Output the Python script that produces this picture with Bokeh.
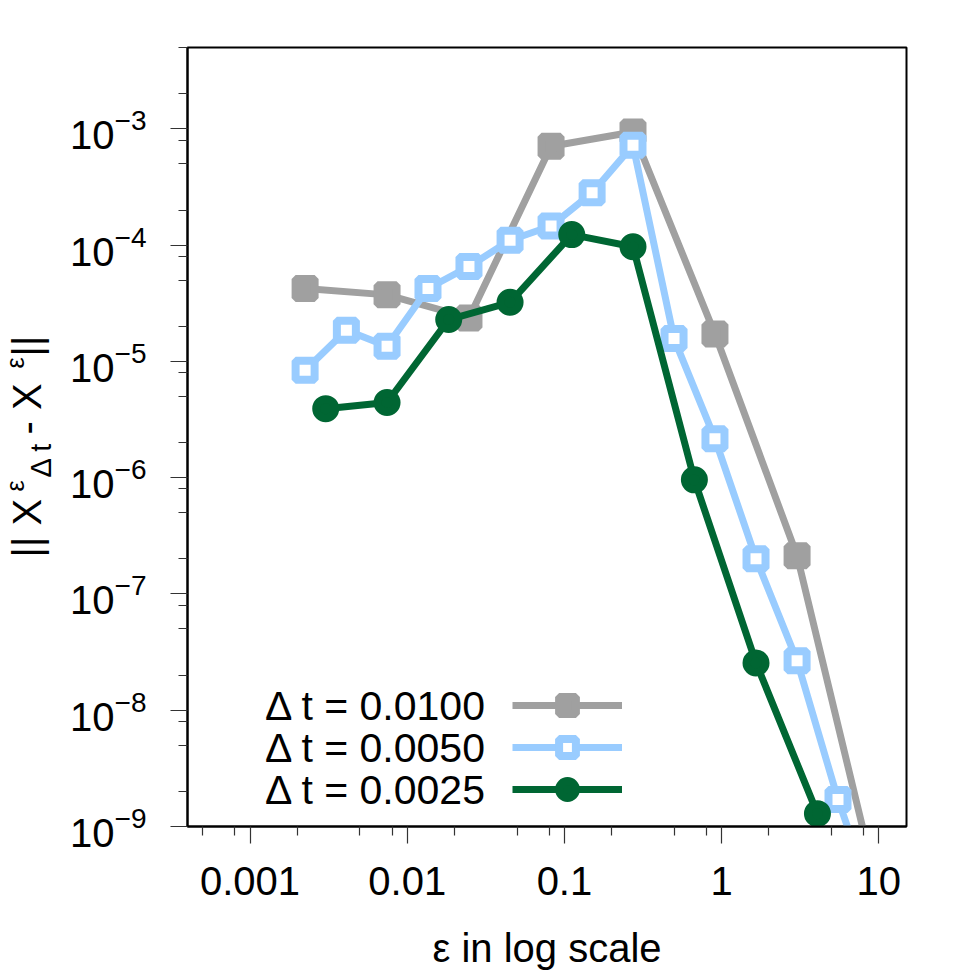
from bokeh.plotting import figure
from bokeh.layouts import row
from bokeh.models import (FixedTicker, LogTickFormatter, CustomJSTickFormatter,
                          Label, Legend, LegendItem, Range1d)
from bokeh.embed import file_html
from bokeh.resources import INLINE

# --- data: error norm versus epsilon for three time steps -------------------
eps_dt0100 = [0.00224, 0.00744, 0.0247, 0.0822, 0.273, 0.907, 3.02, 10.0]
err_dt0100 = [4.23e-5, 3.73e-5, 2.36e-5, 7.07e-4, 9.38e-4, 1.72e-5, 2.13e-7, 2.6e-10]

eps_dt0050 = [0.00224, 0.00410, 0.00744, 0.01355, 0.0247, 0.0451, 0.0822, 0.150,
              0.273, 0.498, 0.907, 1.655, 3.02, 5.50, 10.0]
err_dt0050 = [8.37e-6, 1.85e-5, 1.35e-5, 4.23e-5, 6.54e-5, 1.10e-4, 1.46e-4, 2.82e-4,
              7.21e-4, 1.57e-5, 2.16e-6, 2.01e-7, 2.66e-8, 1.71e-9, 1.66e-10]

eps_dt0025 = [0.00303, 0.00744, 0.01836, 0.0451, 0.1113, 0.273, 0.671, 1.655, 4.07]
err_dt0025 = [3.92e-6, 4.43e-6, 2.29e-5, 3.22e-5, 1.23e-4, 9.67e-5, 9.57e-7, 2.55e-8, 1.29e-9]

legend_labels = ["\u0394 t = 0.0100", "\u0394 t = 0.0050", "\u0394 t = 0.0025"]

x_major = [0.001, 0.01, 0.1, 1, 10]
x_minor = [5e-4, 8e-4, 2e-3, 5e-3, 8e-3, 0.02, 0.05, 0.08, 0.2, 0.5, 0.8, 2, 5, 8]
y_major = [1e-9, 1e-8, 1e-7, 1e-6, 1e-5, 1e-4, 1e-3]
y_minor = [k * 10.0 ** e for e in range(-9, -2) for k in (2, 5, 8)]

FONT = "Liberation Sans"
PAGE = 975
TITLE_W = 62             # strip holding the vertical y-axis title
FRAME_L, FRAME_B = 187, 826  # frame left / bottom on the page

# --- main plot --------------------------------------------------------------
p = figure(x_axis_type="log", y_axis_type="log",
           x_range=Range1d(4e-4, 15), y_range=Range1d(1e-9, 5e-3),
           frame_width=719, frame_height=779,
           min_border_left=FRAME_L - TITLE_W, min_border_right=69,
           min_border_top=47, min_border_bottom=149,
           output_backend="svg", toolbar_location=None)
p.grid.visible = False
p.background_fill_color = "white"
p.border_fill_color = "white"
p.outline_line_color = "black"
p.outline_line_width = 2
p.outline_line_alpha = 1

for ax in (p.xaxis[0], p.yaxis[0]):
    ax.axis_line_color = "black"
    ax.axis_line_width = 2
    ax.major_tick_line_color = "#333333"
    ax.minor_tick_line_color = "#333333"
    ax.major_tick_line_width = 1.2
    ax.minor_tick_line_width = 1.2
    ax.major_tick_in = 0
    ax.major_tick_out = 17
    ax.minor_tick_in = 0
    ax.minor_tick_out = 9
    ax.major_label_text_font = FONT
    ax.major_label_text_color = "black"

xa = p.xaxis[0]
xa.ticker = FixedTicker(ticks=x_major, minor_ticks=x_minor)
xa.formatter = CustomJSTickFormatter(code="return tick.toString();")
xa.major_label_text_font_size = "40px"
xa.major_label_standoff = 23
xa.axis_label = "\u03b5 in log scale"
xa.axis_label_text_font = FONT
xa.axis_label_text_font_size = "40px"
xa.axis_label_text_font_style = "normal"
xa.axis_label_text_color = "black"
xa.axis_label_standoff = 28

ya = p.yaxis[0]
ya.ticker = FixedTicker(ticks=y_major, minor_ticks=y_minor)
ya.formatter = LogTickFormatter()
ya.major_label_text_font_size = "40px"
ya.major_label_standoff = 24

# --- series -----------------------------------------------------------------
series = [
    (eps_dt0100, err_dt0100, "#a0a0a0", "square", "#a0a0a0"),
    (eps_dt0050, err_dt0050, "#99ccff", "square", "white"),
    (eps_dt0025, err_dt0025, "#006633", "circle", "#006633"),
]
items = []
for eps, err, color, marker, fill in series:
    rl = p.line(eps, err, line_color=color, line_width=7, line_join="round")
    rm = p.scatter(eps, err, marker=marker, size=19, line_width=8,
                   line_color=color, fill_color=fill)
    items.append(LegendItem(label=" ", renderers=[rl, rm]))

legend = Legend(items=items, location=(325, 16), orientation="vertical",
                glyph_width=110, glyph_height=42, spacing=0,
                padding=0, margin=0, label_standoff=0, label_width=0,
                label_height=0, label_text_font_size="1px",
                border_line_alpha=0, background_fill_alpha=0)
p.add_layout(legend)

# legend texts, right-aligned to the left of the sample lines
row_y = [705.8, 747.5, 789.2]
for txt, sy in zip(legend_labels, row_y):
    p.add_layout(Label(x=486.7 - FRAME_L, y=FRAME_B - sy,
                       x_units="screen", y_units="screen", text=txt,
                       text_align="right", text_baseline="middle",
                       text_font=FONT, text_font_size="41px", text_color="black"))

# --- y-axis title strip: || X^eps_{Delta t} - X^eps ||, bottom-to-top ------
t = figure(width=TITLE_W, height=PAGE, x_range=Range1d(0, 1),
           y_range=Range1d(0, 1), min_border=0,
           x_axis_location=None, y_axis_location=None,
           output_backend="svg", toolbar_location=None)
t.grid.visible = False
t.outline_line_color = None
t.background_fill_color = "white"
t.border_fill_color = "white"

# (text, font size, anchor x, start y) in canvas pixels
ylabel_parts = [
    ("|| X", "40px", 26.0, 557),
    ("\u03b5", "25px", 14.0, 491),
    ("\u0394 t", "29px", 40.5, 477),
    (" - X", "40px", 26.0, 434),
    ("\u03b5", "25px", 14.0, 368),
    (" ||", "40px", 26.0, 356),
]
for txt, size, bx, sy in ylabel_parts:
    t.add_layout(Label(x=bx, y=sy, x_units="canvas", y_units="canvas",
                       text=txt, angle=90, angle_units="deg",
                       text_align="left", text_baseline="alphabetic",
                       text_font=FONT, text_font_size=size, text_color="black"))

layout = row(t, p, spacing=0)
open("out.html", "w").write(file_html(layout, INLINE))
